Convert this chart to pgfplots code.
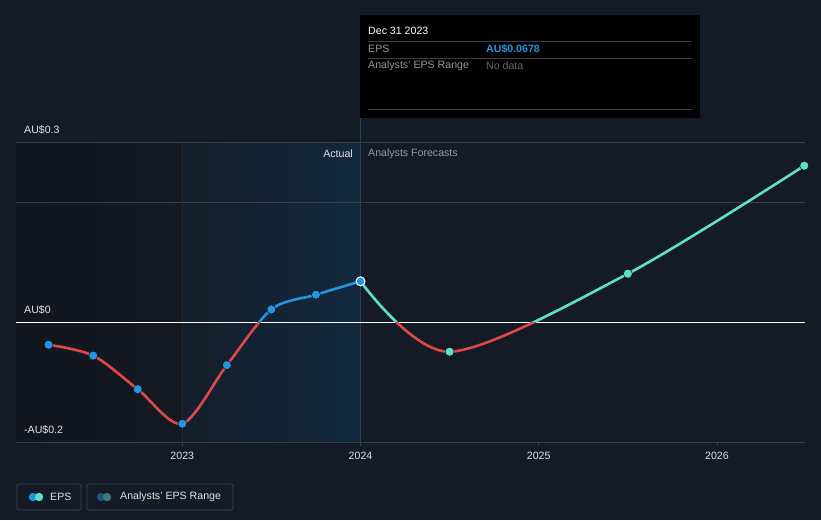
\documentclass[border=0pt]{standalone}
\usepackage{pgfplots}
\pgfplotsset{compat=1.18}
\usepackage{pgfplotstable}
\usepackage{fontspec}
\setmainfont{Liberation Sans}
\definecolor{bg}{RGB}{21,27,38}
\definecolor{gridc}{RGB}{58,63,74}
\definecolor{epsblue}{RGB}{35,148,223}
\definecolor{epsred}{RGB}{224,72,72}
\definecolor{epsteal}{RGB}{93,224,200}
\definecolor{labc}{RGB}{225,225,228}
\definecolor{grayc}{RGB}{150,152,158}
\definecolor{leftA}{RGB}{17,21,29}
\definecolor{leftB}{RGB}{20,25,34}
\definecolor{midA}{RGB}{20,30,43}
\definecolor{midB}{RGB}{18,41,62}
\definecolor{vline}{RGB}{38,68,98}
\definecolor{vlineA}{RGB}{30,42,58}
\definecolor{legbox}{RGB}{62,66,76}
\definecolor{tipline}{RGB}{62,62,66}
\definecolor{nodata}{RGB}{100,102,108}
\definecolor{rangeA}{RGB}{30,84,126}
\definecolor{rangeB}{RGB}{62,122,122}

\pgfplotstableread{
x y
2022.25 -0.038
2022.50 -0.056
2022.75 -0.112
2023.00 -0.1695
2023.25 -0.072
2023.50 0.021
2023.75 0.0455
2024.00 0.0678
}\actual
\pgfplotstableread{
x y
2024.00 0.0678
2024.50 -0.0495
2025.50 0.0805
2026.49 0.2605
}\forecast

\begin{document}
\fontsize{10.6}{12}\selectfont
\begin{tikzpicture}
\fill[bg] (0pt,0pt) rectangle (821pt,520pt);
\begin{axis}[
  at={(16pt,78pt)}, anchor=south west,
  scale only axis, width=789pt, height=300pt,
  xmin=2022.067, xmax=2026.494, ymin=-0.2, ymax=0.3,
  axis x line*=bottom, axis y line=none,
  x axis line style={draw=none},
  xtick={2023,2024,2025,2026},
  xticklabels={2023,2024,2025,2026},
  tick align=outside, major tick length=4pt,
  major tick style={draw=gridc, line width=0.8pt},
  xticklabel style={text=labc, font=\fontsize{10.6}{12}\selectfont, yshift=-2pt},
  ytick=\empty,
]
\fill[left color=leftA, right color=leftB] (axis cs:2022.067,-0.2) rectangle (axis cs:2023,0.3);
\fill[left color=midA, right color=midB] (axis cs:2023,-0.2) rectangle (axis cs:2024,0.3);
\draw[gridc, line width=0.8pt] (axis cs:2022.067,0.3) -- (axis cs:2026.494,0.3);
\draw[gridc, line width=0.8pt] (axis cs:2022.067,0.2) -- (axis cs:2026.494,0.2);
\draw[gridc, line width=0.8pt] (axis cs:2022.067,-0.2) -- (axis cs:2026.494,-0.2);
\draw[vlineA, line width=0.6pt] (axis cs:2023,-0.2) -- (axis cs:2023,0.3);
\draw[vline, line width=0.8pt] (axis cs:2024,-0.2) -- (axis cs:2024,0.3);
\draw[white, line width=1pt] (axis cs:2022.067,0) -- (axis cs:2026.494,0);
\begin{scope}
\clip (axis cs:2022,0) rectangle (axis cs:2027,0.4);
\addplot[epsblue, line width=2.6pt, smooth, no marks] table {\actual};
\addplot[epsteal, line width=2.6pt, smooth, no marks] table {\forecast};
\end{scope}
\begin{scope}
\clip (axis cs:2022,-0.3) rectangle (axis cs:2027,0);
\addplot[epsred, line width=2.6pt, smooth, no marks] table {\actual};
\addplot[epsred, line width=2.6pt, smooth, no marks] table {\forecast};
\end{scope}
\addplot[only marks, mark=*, mark size=4.5pt, mark options={fill=epsblue, draw=none}] table {\actual};
\addplot[only marks, mark=*, mark size=4.5pt, mark options={fill=epsteal, draw=none}] coordinates {(2024.5,-0.0495) (2025.5,0.0805) (2026.49,0.2605)};
\addplot[only marks, mark=*, mark size=4.5pt, mark options={fill=epsblue, draw=white, line width=1pt}] coordinates {(2024,0.0678)};
\end{axis}
\begin{scope}[x=1pt,y=1pt]
% vertical line at 2024 above the plot area
\draw[vline, line width=0.8pt] (360.5,378) -- (360.5,402);
% y labels
\node[anchor=west, text=labc, inner sep=0] at (24,390) {AU\$0.3};
\node[anchor=west, text=labc, inner sep=0] at (24,210) {AU\$0};
\node[anchor=west, text=labc, inner sep=0] at (24,90) {-AU\$0.2};
% actual / forecast
\node[anchor=east, text=labc, inner sep=0] at (353,366) {Actual};
\node[anchor=west, text=grayc, inner sep=0] at (368,366) {Analysts Forecasts};
% tooltip
\fill[black] (360,402) rectangle (700,505);
\draw[tipline, line width=0.7pt] (368,479) -- (692,479);
\draw[tipline, line width=0.7pt] (368,462) -- (692,462);
\draw[tipline, line width=0.7pt] (368,411) -- (692,411);
\node[anchor=west, text=white, inner sep=0] at (368,489) {Dec 31 2023};
\node[anchor=west, text=grayc, inner sep=0] at (368,471) {EPS};
\node[anchor=west, text=epsblue, inner sep=0] at (486,471) {\bfseries AU\$0.0678};
\node[anchor=west, text=grayc, inner sep=0] at (368,454) {Analysts' EPS Range};
\node[anchor=west, text=nodata, inner sep=0] at (486,454) {No data};
% legend
\draw[legbox, line width=0.8pt, rounded corners=1.5pt] (17,10) rectangle (81,36);
\fill[epsblue] (33,23) circle (4.2);
\fill[epsteal] (39,23) circle (4.2);
\node[anchor=west, text=labc, inner sep=0] at (50,23) {EPS};
\draw[legbox, line width=0.8pt, rounded corners=1.5pt] (87,10) rectangle (233,36);
\fill[rangeA] (101,23) circle (4.2);
\fill[rangeB] (107,23) circle (4.2);
\node[anchor=west, text=labc, inner sep=0] at (120,23) {Analysts' EPS Range};
\end{scope}
\end{tikzpicture}
\end{document}
